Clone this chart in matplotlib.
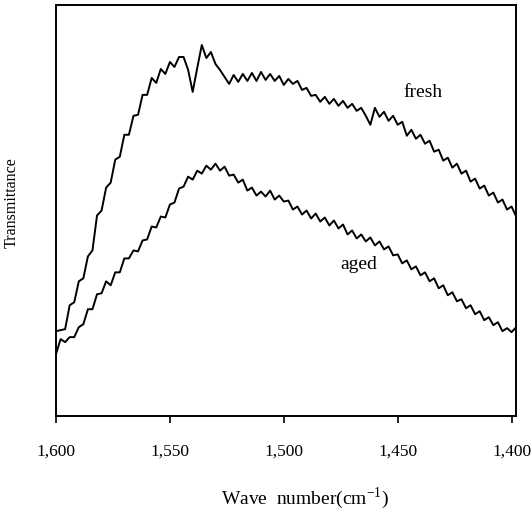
import numpy as np
import matplotlib
matplotlib.use("Agg")
import matplotlib.pyplot as plt

# wave numbers, sampled every 2 cm-1 from 1600 down to 1398
wave_number = np.arange(1600, 1397, -2)

fresh = [
    85, 86, 87, 111, 114, 135, 138, 160, 166, 201,
    206, 229, 234, 257, 260, 282, 282, 301, 302, 322,
    322, 339, 334, 348, 343, 355, 350, 360, 360, 347,
    325, 349, 372, 359, 365, 353, 347, 340, 333, 342,
    335, 343, 336, 344, 336, 345, 337, 343, 336, 341,
    332, 338, 333, 336, 327, 329, 321, 322, 315, 320,
    313, 318, 311, 316, 309, 313, 306, 309, 301, 292,
    309, 300, 305, 296, 301, 292, 295, 281, 287, 278,
    282, 273, 276, 265, 267, 256, 259, 249, 253, 243,
    246, 235, 238, 228, 231, 221, 224, 214, 217, 207,
    210, 200,
]

aged = [
    62, 77, 74, 79, 79, 89, 92, 107, 107, 122,
    123, 135, 131, 144, 144, 158, 158, 166, 165, 176,
    177, 190, 189, 200, 199, 212, 214, 228, 230, 240,
    237, 246, 243, 251, 247, 253, 246, 250, 241, 242,
    234, 237, 226, 229, 221, 225, 220, 226, 217, 221,
    215, 216, 207, 210, 202, 206, 198, 203, 195, 199,
    191, 196, 188, 192, 182, 186, 178, 182, 175, 179,
    171, 175, 167, 170, 161, 162, 153, 156, 147, 150,
    141, 144, 135, 138, 128, 131, 121, 124, 115, 117,
    108, 111, 102, 105, 96, 99, 91, 94, 85, 88,
    84, 89,
]

x_ticks = [1600, 1550, 1500, 1450, 1400]
x_tick_labels = ["1,600", "1,550", "1,500", "1,450", "1,400"]

plt.rcParams["font.family"] = ["Liberation Serif", "DejaVu Serif"]
plt.rcParams["mathtext.fontset"] = "custom"
plt.rcParams["mathtext.rm"] = "Liberation Serif"

fig = plt.figure(figsize=(5.31, 5.16), dpi=100)
ax = fig.add_axes([0.1055, 0.194, 0.8665, 0.796])

ax.plot(wave_number, fresh, color="black", linewidth=1.4)
ax.plot(wave_number, aged, color="black", linewidth=1.4)

ax.text(1439, 324, "fresh", fontsize=14, ha="center", va="center")
ax.text(1467, 152, "aged", fontsize=14, ha="center", va="center")

ax.set_xlim(1600, 1398)
ax.set_ylim(0, 412)
ax.set_xticks(x_ticks)
ax.set_xticklabels(x_tick_labels, fontsize=12.5)
ax.set_yticks([])
ax.tick_params(axis="x", direction="out", length=5, width=1.2, pad=15)

for spine in ax.spines.values():
    spine.set_linewidth(1.4)

ax.set_xlabel("Wave  number(cm$^{-1}$)", fontsize=14)
ax.xaxis.set_label_coords(0.541, -0.17)
ax.set_ylabel("Transmittance", fontsize=11.5)
ax.yaxis.set_label_coords(-0.08, 0.52)

fig.savefig("out.png", dpi=100)
